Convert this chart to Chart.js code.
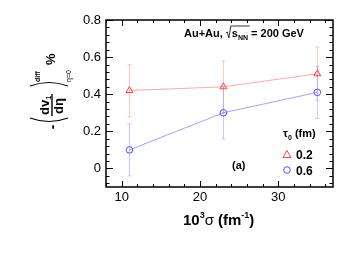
<!DOCTYPE html>
<html><head><meta charset="utf-8">
<script src="https://cdn.jsdelivr.net/npm/chart.js@4"></script>
<style>html,body{margin:0;padding:0;background:#fff}#wrap{width:347px;height:260px}</style>
</head><body><div id="wrap"><canvas id="c" width="347" height="260"></canvas></div>
<script>
const sigma = [11, 23, 35];
const tau02 = [0.42, 0.44, 0.51];
const tau06 = [0.10, 0.30, 0.41];
const err02 = [0.14, 0.14, 0.145];
const err06 = [0.14, 0.14, 0.14];
const xTicks = [10, 20, 30];
const yTicks = [0, 0.2, 0.4, 0.6, 0.8];
const seriesLabels = ['0.2', '0.6'];
const FONT = 'Liberation Sans, Arial, Helvetica, sans-serif';
const RED = '#ff4040', RED_L = 'rgba(255,110,110,0.6)', RED_E = 'rgba(255,130,130,0.45)';
const BLUE = '#5050ff', BLUE_L = 'rgba(100,100,255,0.6)', BLUE_E = 'rgba(130,130,255,0.45)';
const errs = [err02, err06];

const errorBars = {
  id: 'errorBars',
  beforeDatasetsDraw(chart) {
    const ctx = chart.ctx, ys = chart.scales.y;
    chart.data.datasets.forEach((ds, i) => {
      const meta = chart.getDatasetMeta(i);
      ctx.save();
      ctx.strokeStyle = ds._errColor;
      ctx.lineWidth = 1;
      meta.data.forEach((pt, j) => {
        const v = ds.data[j].y, e = errs[i][j];
        const y1 = ys.getPixelForValue(v + e), y2 = ys.getPixelForValue(v - e);
        ctx.beginPath();
        ctx.moveTo(pt.x, y1); ctx.lineTo(pt.x, y2);
        ctx.moveTo(pt.x - 2, y1); ctx.lineTo(pt.x + 2, y1);
        ctx.moveTo(pt.x - 2, y2); ctx.lineTo(pt.x + 2, y2);
        ctx.stroke();
      });
      ctx.restore();
    });
  }
};

function seq(a, b, st) { const r = []; for (let v = a; v <= b + 1e-9; v += st) r.push(+v.toFixed(4)); return r; }

const frame = {
  id: 'frame',
  afterDraw(chart) {
    const ctx = chart.ctx, a = chart.chartArea, xs = chart.scales.x, ys = chart.scales.y;
    ctx.save();
    ctx.strokeStyle = '#000';
    ctx.lineWidth = 1;
    ctx.beginPath();
    seq(8, 36, 2).forEach(v => {
      const x = Math.round(xs.getPixelForValue(v)) + 0.5;
      const L = (v % 10 === 0) ? 6 : 3;
      ctx.moveTo(x, a.bottom); ctx.lineTo(x, a.bottom - L);
      ctx.moveTo(x, a.top); ctx.lineTo(x, a.top + L);
    });
    seq(-0.08, 0.8, 0.04).forEach(v => {
      const y = Math.round(ys.getPixelForValue(v)) + 0.5;
      const major = Math.abs(v * 5 - Math.round(v * 5)) < 1e-6;
      const L = major ? 7 : 3.5;
      ctx.moveTo(a.left, y); ctx.lineTo(a.left + L, y);
      ctx.moveTo(a.right, y); ctx.lineTo(a.right - L, y);
    });
    ctx.stroke();
    ctx.lineWidth = 1.5;
    ctx.strokeRect(a.left, a.top, a.right - a.left, a.bottom - a.top);

    // header text
    ctx.fillStyle = '#000';
    ctx.textBaseline = 'alphabetic';
    ctx.textAlign = 'left';
    let x = 184, y = 37;
    ctx.font = 'bold 11px ' + FONT;
    ctx.fillText('Au+Au,', x, y); x += ctx.measureText('Au+Au,').width + 3;
    ctx.lineWidth = 0.8;
    ctx.beginPath();
    ctx.moveTo(x, y - 4); ctx.lineTo(x + 1.5, y - 5); ctx.lineTo(x + 3, y + 1); ctx.lineTo(x + 5, y - 11); ctx.lineTo(x + 24, y - 11);
    ctx.stroke();
    x += 6;
    ctx.fillText('s', x, y); x += ctx.measureText('s').width;
    ctx.font = 'bold 7px ' + FONT;
    ctx.fillText('NN', x, y + 3); x += ctx.measureText('NN').width + 3;
    ctx.font = 'bold 11px ' + FONT;
    ctx.fillText('= 200 GeV', x, y);

    // legend
    ctx.font = 'bold 11px ' + FONT;
    ctx.fillText('τ', 283, 137);
    let w = ctx.measureText('τ').width;
    ctx.font = 'bold 7px ' + FONT;
    ctx.fillText('0', 283 + w, 140);
    ctx.font = 'bold 11px ' + FONT;
    ctx.fillText('(fm)', 283 + w + 7, 137);
    ctx.font = 'bold 12px ' + FONT;
    ctx.fillText(seriesLabels[0], 296, 159);
    ctx.fillText(seriesLabels[1], 296, 175);
    ctx.lineWidth = 1;
    ctx.strokeStyle = RED;
    ctx.beginPath();
    ctx.moveTo(287, 150.5); ctx.lineTo(291, 157.5); ctx.lineTo(283, 157.5); ctx.closePath(); ctx.stroke();
    ctx.strokeStyle = BLUE;
    ctx.beginPath(); ctx.arc(287, 170, 3.3, 0, Math.PI * 2); ctx.stroke();

    ctx.fillStyle = '#000';
    ctx.font = 'bold 11px ' + FONT;
    ctx.fillText('(a)', 232, 169);

    // x title
    x = 183; y = 225;
    ctx.font = 'bold 15px ' + FONT;
    ctx.fillText('10', x, y); x += ctx.measureText('10').width;
    ctx.font = 'bold 9px ' + FONT;
    ctx.fillText('3', x, y - 7); x += ctx.measureText('3').width;
    ctx.font = '15px ' + FONT;
    ctx.fillText('σ', x, y); x += ctx.measureText('σ').width + 4;
    ctx.font = 'bold 15px ' + FONT;
    ctx.fillText('(fm', x, y); x += ctx.measureText('(fm').width;
    ctx.font = 'bold 9px ' + FONT;
    ctx.fillText('-1', x, y - 7); x += ctx.measureText('-1').width;
    ctx.font = 'bold 15px ' + FONT;
    ctx.fillText(')', x, y);

    // y title (rotated)
    ctx.save();
    ctx.translate(52, 108);
    ctx.rotate(-Math.PI / 2);
    ctx.strokeStyle = '#000';
    ctx.lineWidth = 1.1;
    ctx.beginPath();
    ctx.moveTo(-10, -22); ctx.quadraticCurveTo(-17, -3, -10, 16);
    ctx.moveTo(22, -22); ctx.quadraticCurveTo(29, -3, 22, 16);
    ctx.stroke();
    ctx.textBaseline = 'middle';
    ctx.textAlign = 'center';
    ctx.font = 'bold 14px ' + FONT;
    ctx.fillText('-', -19, 1);
    ctx.textAlign = 'left';
    ctx.font = 'bold 13px ' + FONT;
    ctx.fillText('dv', -7, -7);
    let dw = ctx.measureText('dv').width;
    ctx.font = 'bold 7px ' + FONT;
    ctx.fillText('1', -7 + dw, -3);
    ctx.font = 'bold 13px ' + FONT;
    ctx.fillText('dη', -6, 7);
    ctx.fillRect(-8, -0.7, 22, 1.4);
    ctx.font = 'bold 7px ' + FONT;
    ctx.fillText('diff', 26, -14);
    ctx.font = '7px ' + FONT;
    ctx.fillText('η=0', 26, 17);
    ctx.font = 'bold 13px ' + FONT;
    ctx.fillText('%', 43, -1);
    ctx.restore();
    ctx.restore();
  }
};

new Chart(document.getElementById('c'), {
  type: 'line',
  data: {
    datasets: [
      { label: seriesLabels[0], data: sigma.map((s, i) => ({ x: s, y: tau02[i] })),
        borderColor: RED_L, borderWidth: 1, pointStyle: 'triangle', pointRadius: 4,
        pointBorderColor: RED, pointBackgroundColor: 'rgba(255,255,255,0)', pointBorderWidth: 1, _errColor: RED_E },
      { label: seriesLabels[1], data: sigma.map((s, i) => ({ x: s, y: tau06[i] })),
        borderColor: BLUE_L, borderWidth: 1, pointStyle: 'circle', pointRadius: 3.3,
        pointBorderColor: BLUE, pointBackgroundColor: 'rgba(255,255,255,0)', pointBorderWidth: 1, _errColor: BLUE_E }
    ]
  },
  options: {
    responsive: false, animation: false, devicePixelRatio: 1,
    layout: { padding: { left: 0, right: 14, top: 20, bottom: 0 } },
    plugins: { legend: { display: false }, tooltip: { enabled: false } },
    scales: {
      x: { type: 'linear', min: 8, max: 37,
        grid: { display: false, drawTicks: false }, border: { display: false },
        ticks: { color: '#000', font: { family: FONT, size: 13 }, padding: 3, maxRotation: 0, autoSkip: false },
        afterBuildTicks: s => { s.ticks = xTicks.map(v => ({ value: v })); },
        afterFit: s => { s.height = 73; } },
      y: { type: 'linear', min: -0.1, max: 0.8,
        grid: { display: false, drawTicks: false }, border: { display: false },
        ticks: { color: '#000', font: { family: FONT, size: 13 }, padding: 5, autoSkip: false,
          callback: v => v === 0 ? '0' : v.toFixed(1) },
        afterBuildTicks: s => { s.ticks = yTicks.map(v => ({ value: v })); },
        afterFit: s => { s.width = 106; } }
    }
  },
  plugins: [errorBars, frame]
});
</script></body></html>
